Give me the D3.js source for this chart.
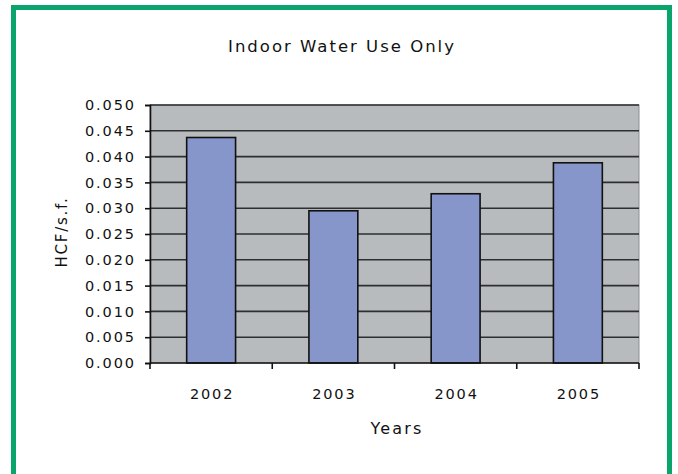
<!DOCTYPE html>
<html>
<head>
<meta charset="utf-8">
<script src="https://cdn.jsdelivr.net/npm/d3@7/dist/d3.min.js"></script>
<style>
  html, body { margin: 0; padding: 0; background: #ffffff; }
  svg { display: block; }
  text { font-family: "DejaVu Sans", Verdana, sans-serif; fill: #111; }
</style>
</head>
<body>
<svg id="chart" width="678" height="474"></svg>
<script>
// Indoor water use per square foot, by year
const years = ["2002", "2003", "2004", "2005"];
const hcfPerSqFt = [0.0437, 0.0295, 0.0328, 0.0388];
const yTicks = [0, 0.005, 0.01, 0.015, 0.02, 0.025, 0.03, 0.035, 0.04, 0.045, 0.05];
const chartTitle = "Indoor Water Use Only";
const xTitle = "Years";
const yTitle = "HCF/s.f.";

const svg = d3.select("#chart");

// green frame
svg.append("rect")
  .attr("x", 13.5).attr("y", 7.5)
  .attr("width", 656).attr("height", 480)
  .attr("fill", "none")
  .attr("stroke", "#0aa56c")
  .attr("stroke-width", 5);

const plot = { left: 150, right: 639, top: 105, bottom: 363 };

const x = d3.scaleBand()
  .domain(years)
  .range([plot.left, plot.right])
  .paddingInner(0.6)
  .paddingOuter(0.3);

// band boundaries for category ticks
const xEdges = d3.scaleLinear().domain([0, years.length]).range([plot.left, plot.right]);

const y = d3.scaleLinear()
  .domain([0, 0.05])
  .range([plot.bottom, plot.top]);

// plot background
svg.append("rect")
  .attr("x", plot.left).attr("y", plot.top)
  .attr("width", plot.right - plot.left)
  .attr("height", plot.bottom - plot.top)
  .attr("fill", "#b8bbbd")
  .attr("stroke", "#8d8f91")
  .attr("stroke-width", 1);

// horizontal gridlines
svg.append("g")
  .selectAll("line")
  .data(yTicks.filter(d => d > 0))
  .join("line")
  .attr("x1", plot.left).attr("x2", plot.right)
  .attr("y1", d => y(d)).attr("y2", d => y(d))
  .attr("stroke", "#2c2e30")
  .attr("stroke-width", 1.6);

// bars
svg.append("g")
  .selectAll("rect")
  .data(years)
  .join("rect")
  .attr("x", d => x(d))
  .attr("y", (d, i) => y(hcfPerSqFt[i]))
  .attr("width", x.bandwidth())
  .attr("height", (d, i) => y(0) - y(hcfPerSqFt[i]))
  .attr("fill", "#8696cb")
  .attr("stroke", "#111")
  .attr("stroke-width", 1.6);

// y axis
const yAxis = d3.axisLeft(y)
  .tickValues(yTicks)
  .tickFormat(d3.format(".3f"))
  .tickSize(5)
  .tickPadding(9);
const gy = svg.append("g")
  .attr("transform", `translate(${plot.left},0)`)
  .call(yAxis);
gy.select(".domain").attr("stroke", "#111").attr("stroke-width", 1.6);
gy.selectAll(".tick line").attr("stroke", "#111").attr("stroke-width", 1.6);
gy.selectAll(".tick text")
  .attr("font-size", 14.5)
  .attr("letter-spacing", 1.9)
  .attr("fill", "#111");

// x axis line with ticks at category boundaries
const gx = svg.append("g");
gx.append("line")
  .attr("x1", plot.left).attr("x2", plot.right)
  .attr("y1", plot.bottom).attr("y2", plot.bottom)
  .attr("stroke", "#111").attr("stroke-width", 1.6);
gx.selectAll("line.tk")
  .data(d3.range(years.length + 1))
  .join("line")
  .attr("class", "tk")
  .attr("x1", d => xEdges(d)).attr("x2", d => xEdges(d))
  .attr("y1", plot.bottom).attr("y2", plot.bottom + 6)
  .attr("stroke", "#111").attr("stroke-width", 1.6);
gx.selectAll("text")
  .data(years)
  .join("text")
  .attr("x", d => x(d) + x.bandwidth() / 2 + 1)
  .attr("y", 399)
  .attr("text-anchor", "middle")
  .attr("font-size", 14.5)
  .attr("letter-spacing", 1.8)
  .text(d => d);

// titles
svg.append("text")
  .attr("x", 342).attr("y", 52)
  .attr("text-anchor", "middle")
  .attr("font-size", 16.5)
  .attr("letter-spacing", 2)
  .text(chartTitle);

svg.append("text")
  .attr("x", 397).attr("y", 434)
  .attr("text-anchor", "middle")
  .attr("font-size", 16)
  .attr("letter-spacing", 2.2)
  .text(xTitle);

svg.append("text")
  .attr("transform", "translate(67,232) rotate(-90)")
  .attr("text-anchor", "middle")
  .attr("font-size", 15)
  .attr("letter-spacing", 1.75)
  .text(yTitle);
</script>
</body>
</html>
